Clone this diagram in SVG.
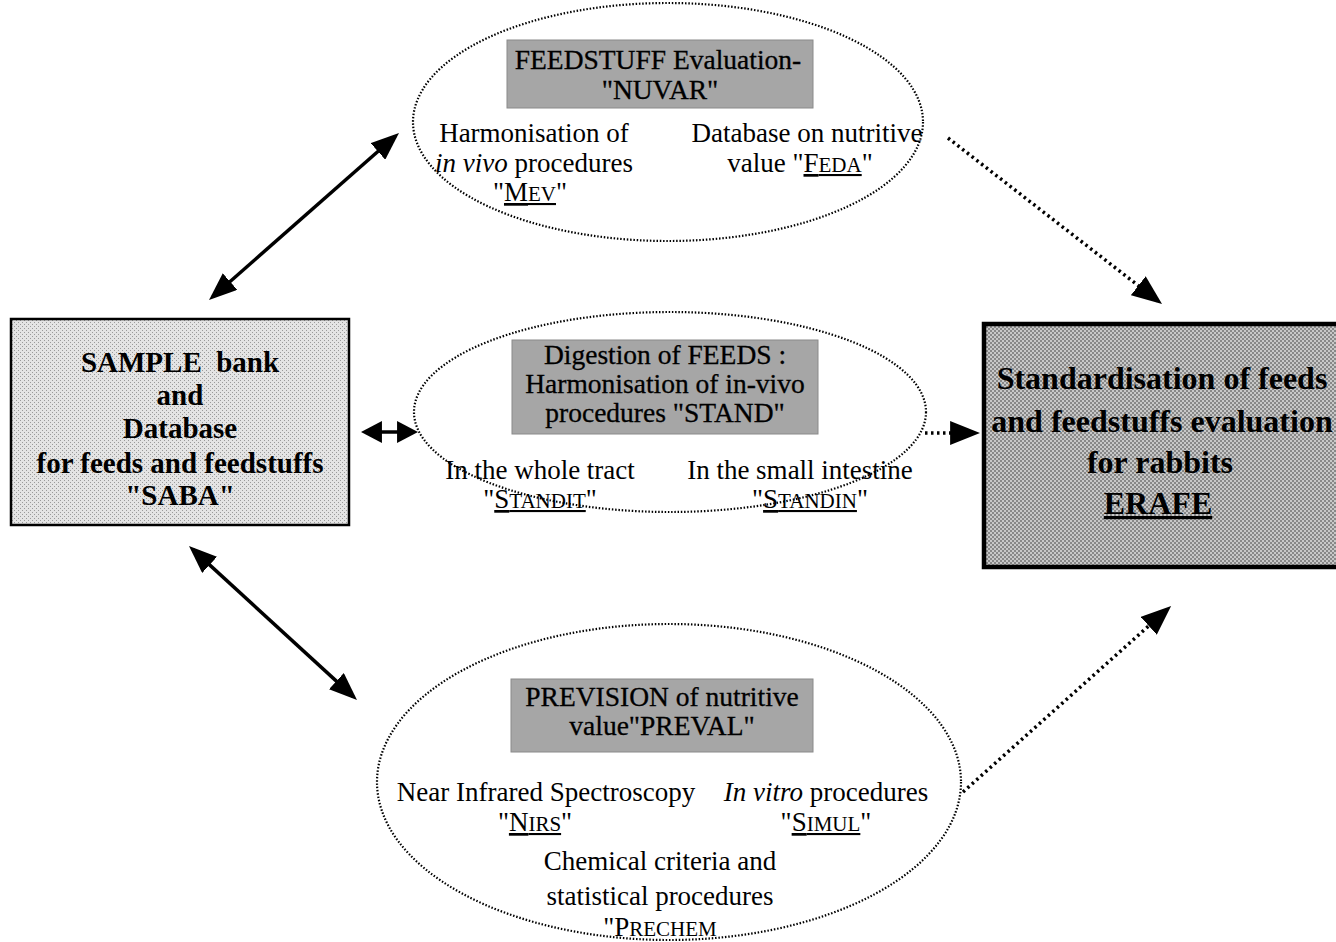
<svg xmlns="http://www.w3.org/2000/svg" width="1336" height="942" viewBox="0 0 1336 942">
<style>
  text { font-family: "Liberation Serif", "Times New Roman", serif; fill: #000; }
  .t { font-size: 27px; text-anchor: middle; }
  .h { font-size: 27.5px; text-anchor: middle; stroke: #000; stroke-width: 0.3; }
  .sc { font-size: 21px; }
  .u { text-decoration: underline; }
  .b1 { font-size: 29px; font-weight: bold; text-anchor: middle; }
  .b2 { font-size: 32px; font-weight: bold; text-anchor: middle; }
  .ell { fill: none; stroke: #000; stroke-width: 2.2; stroke-dasharray: 1.5 1.8; }
  .hbox { fill: #a6a6a6; stroke: #8a8a8a; stroke-width: 1; }
  .solid { fill: none; stroke: #000; stroke-width: 3.5; }
  .dot { fill: none; stroke: #000; stroke-width: 3.5; stroke-dasharray: 2.5 3.5; }
</style>
<defs>
  <pattern id="dither1" width="4" height="4" patternUnits="userSpaceOnUse">
    <rect width="4" height="4" fill="#e4e4e4"/>
    <rect x="0" y="0" width="1" height="1" fill="#9a9a9a"/>
    <rect x="2" y="2" width="1" height="1" fill="#9a9a9a"/>
  </pattern>
  <pattern id="dither2" width="4" height="4" patternUnits="userSpaceOnUse">
    <rect width="4" height="4" fill="#c8c8c8"/>
    <rect x="0" y="0" width="2" height="2" fill="#888"/>
    <rect x="2" y="2" width="2" height="2" fill="#888"/>
  </pattern>
  <marker id="ahBig" viewBox="0 0 10 10" refX="8.2" refY="5" markerUnits="userSpaceOnUse" markerWidth="28" markerHeight="22" orient="auto-start-reverse" preserveAspectRatio="none">
    <path d="M0,0 L10,5 L0,10 z" fill="#000"/>
  </marker>
  <marker id="ahSmall" viewBox="0 0 10 10" refX="7.6" refY="5" markerUnits="userSpaceOnUse" markerWidth="21" markerHeight="22" orient="auto-start-reverse" preserveAspectRatio="none">
    <path d="M0,0 L10,5 L0,10 z" fill="#000"/>
  </marker>
  <marker id="ahDot" viewBox="0 0 10 10" refX="8.3" refY="5" markerUnits="userSpaceOnUse" markerWidth="30" markerHeight="24" orient="auto" preserveAspectRatio="none">
    <path d="M0,0 L10,5 L0,10 z" fill="#000"/>
  </marker>
</defs>

<g id="connectors">
  <line class="solid" x1="212.8" y1="296.7" x2="395.2" y2="136.3" marker-start="url(#ahBig)" marker-end="url(#ahBig)"/>
  <line class="solid" x1="366" y1="432" x2="413" y2="432" marker-start="url(#ahSmall)" marker-end="url(#ahSmall)"/>
  <line class="solid" x1="192.7" y1="549.4" x2="353.3" y2="696.6" marker-start="url(#ahBig)" marker-end="url(#ahBig)"/>
  <line class="dot" x1="948" y1="138" x2="1158" y2="300.9" marker-end="url(#ahDot)"/>
  <line class="dot" x1="925" y1="433" x2="975" y2="433" marker-end="url(#ahDot)"/>
  <line class="dot" x1="963" y1="792" x2="1167.3" y2="609.3" marker-end="url(#ahDot)"/>
</g>

<g id="nuvar">
  <ellipse class="ell" cx="668" cy="122" rx="255" ry="119"/>
  <rect class="hbox" x="507" y="40" width="306" height="68"/>
  <text class="h" x="658" y="69">FEEDSTUFF Evaluation-</text>
  <text class="h" x="660" y="99">"NUVAR"</text>
  <text class="t" x="534" y="142">Harmonisation of</text>
  <text class="t" x="534" y="172"><tspan font-style="italic">in vivo</tspan> procedures</text>
  <text class="t" x="530" y="201">"<tspan class="u">M<tspan class="sc">EV</tspan></tspan>"</text>
  <text class="t" x="807" y="142">Database on nutritive</text>
  <text class="t" x="800" y="172">value "<tspan class="u">F<tspan class="sc">EDA</tspan></tspan>"</text>
</g>

<g id="stand">
  <ellipse class="ell" cx="670" cy="412" rx="256" ry="100"/>
  <rect class="hbox" x="512" y="340" width="306" height="94"/>
  <text class="h" x="665" y="364">Digestion of FEEDS :</text>
  <text class="h" x="665" y="393">Harmonisation of in-vivo</text>
  <text class="h" x="665" y="422">procedures "STAND"</text>
  <text class="t" x="540" y="479">In the whole tract</text>
  <text class="t" x="540" y="508">"<tspan class="u">S<tspan class="sc">TANDIT</tspan></tspan>"</text>
  <text class="t" x="800" y="479">In the small intestine</text>
  <text class="t" x="810" y="508">"<tspan class="u">S<tspan class="sc">TANDIN</tspan></tspan>"</text>
</g>

<g id="preval">
  <ellipse class="ell" cx="669" cy="782" rx="292" ry="158"/>
  <rect class="hbox" x="511" y="679" width="302" height="73"/>
  <text class="h" x="662" y="706">PREVISION of nutritive</text>
  <text class="h" x="662" y="735">value"PREVAL"</text>
  <text class="t" x="546" y="801">Near Infrared Spectroscopy</text>
  <text class="t" x="535" y="831">"<tspan class="u">N<tspan class="sc">IRS</tspan></tspan>"</text>
  <text class="t" x="826" y="801"><tspan font-style="italic">In vitro</tspan> procedures</text>
  <text class="t" x="826" y="831">"<tspan class="u">S<tspan class="sc">IMUL</tspan></tspan>"</text>
  <text class="t" x="660" y="870">Chemical criteria and</text>
  <text class="t" x="660" y="905">statistical procedures</text>
  <text class="t" x="660" y="936">"P<tspan class="sc">RECHEM</tspan></text>
</g>

<g id="saba">
  <rect x="11" y="319" width="338" height="206" fill="url(#dither1)" stroke="#000" stroke-width="2.5"/>
  <text class="b1" x="180" y="372" xml:space="preserve">SAMPLE  bank</text>
  <text class="b1" x="180" y="405">and</text>
  <text class="b1" x="180" y="438">Database</text>
  <text class="b1" x="180" y="473">for feeds and feedstuffs</text>
  <text class="b1" x="180" y="505">"SABA"</text>
</g>

<g id="erafe">
  <rect x="984" y="324" width="360" height="243" fill="url(#dither2)" stroke="#000" stroke-width="4.5"/>
  <text class="b2" x="1162" y="389">Standardisation of feeds</text>
  <text class="b2" x="1162" y="432">and feedstuffs evaluation</text>
  <text class="b2" x="1160" y="473">for rabbits</text>
  <text class="b2 u" x="1158" y="514">ERAFE</text>
</g>
</svg>
